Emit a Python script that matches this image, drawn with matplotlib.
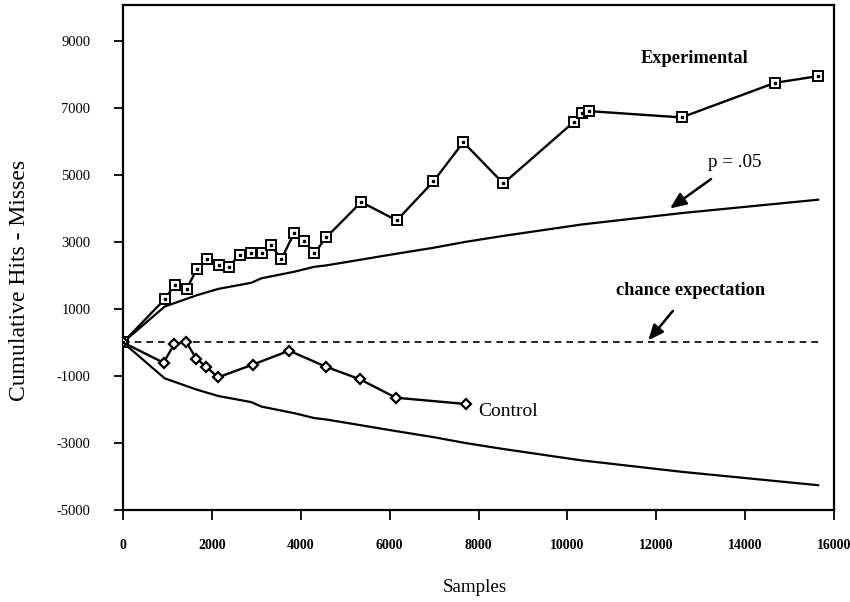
import matplotlib
matplotlib.use("Agg")
import matplotlib.pyplot as plt
import numpy as np

plt.rcParams['font.family'] = ['Liberation Serif', 'DejaVu Serif']

# Experimental series (squares)
exp_x = [0, 936, 1169, 1431, 1664, 1889, 2150, 2384, 2622, 2886, 3117, 3335, 3560,
         3852, 4077, 4309, 4579, 5359, 6162, 6986, 7658, 8560, 10157, 10323, 10480,
         12570, 14670, 15643]
exp_y = [0, 1286, 1721, 1593, 2199, 2479, 2309, 2258, 2616, 2667, 2667, 2915, 2479,
         3264, 3034, 2667, 3144, 4189, 3642, 4806, 5975, 4746, 6593, 6855, 6904,
         6715, 7748, 7948]

# Control series (diamonds)
ctl_x = [0, 913, 1154, 1424, 1649, 1874, 2137, 2915, 3740, 4565, 5337, 6140, 7721]
ctl_y = [0, -605, -48, 12, -485, -724, -1042, -664, -246, -724, -1102, -1649, -1838]

# p = .05 boundary (magnitude)
bound_x = [0, 936, 1664, 2150, 2886, 3117, 3852, 4309, 4579, 6162, 6986, 7700, 8560,
           10323, 12570, 15643]
bound_y = [0, 1070, 1410, 1600, 1780, 1915, 2110, 2258, 2300, 2650, 2825, 3000, 3180,
           3520, 3860, 4260]

chance_x = [0, 15643]
chance_y = [0, 0]

x_ticks = [0, 2000, 4000, 6000, 8000, 10000, 12000, 14000, 16000]
y_ticks = [-5000, -3000, -1000, 1000, 3000, 5000, 7000, 9000]

fig = plt.figure(figsize=(8.5, 6.02), dpi=100)
ax = fig.add_axes([123/850, 1 - 510/602, (834 - 123)/850, (510 - 5)/602])

bx = np.array(bound_x)
by = np.array(bound_y)
ax.plot(bx, by, color='black', lw=1.6, zorder=2)
ax.plot(bx, -by, color='black', lw=1.6, zorder=2)

ax.plot(chance_x, chance_y, color='black', lw=1.2, ls=(0, (4, 3)), zorder=2)

ax.plot(exp_x, exp_y, color='black', lw=1.7, marker='s', ms=6.5, mfc='white',
        mec='black', mew=1.4, zorder=4)
ax.plot(exp_x, exp_y, ls='none', marker='s', ms=1.6, mfc='black', mec='black', zorder=5)

ax.plot(ctl_x, ctl_y, color='black', lw=1.7, marker='D', ms=5, mfc='white',
        mec='black', mew=1.6, zorder=4)

ax.set_xlim(0, 16000)
ax.set_ylim(-5000, 10070)
ax.set_xticks(x_ticks)
ax.set_yticks(y_ticks)
ax.set_xticklabels([str(t) for t in x_ticks], fontsize=10, fontweight='bold')
ax.set_yticklabels([str(t) for t in y_ticks], fontsize=10.5)
ax.tick_params(axis='x', direction='out', length=7, width=1.3, pad=14)
ax.tick_params(axis='y', direction='out', length=6.5, width=1.3, pad=17)
for s in ax.spines.values():
    s.set_linewidth(1.6)

fig.text(475/850, 1 - 588/602, 'Samples', ha='center', va='center', fontsize=13.7)
fig.text(20/850, 1 - 280/602, 'Cumulative Hits - Misses', ha='center', va='center',
         rotation=90, fontsize=17)

ax.text(12870, 8484, 'Experimental', ha='center', va='center', fontsize=13.2,
        fontweight='bold')
ax.text(7993, -2047, 'Control', ha='left', va='center', fontsize=14)

ax.annotate('p = .05', xy=(12310, 4000), xytext=(13165, 5382), ha='left', va='center',
            fontsize=13.8,
            arrowprops=dict(arrowstyle='-|>,head_length=0.7,head_width=0.3', lw=1.8,
                            color='black', shrinkA=7, shrinkB=0))
ax.annotate('chance expectation', xy=(11821, 60), xytext=(12766, 1563), ha='center',
            va='center', fontsize=13.2, fontweight='bold',
            arrowprops=dict(arrowstyle='-|>,head_length=0.7,head_width=0.3', lw=1.8,
                            color='black', shrinkA=9, shrinkB=0))

fig.savefig('out.png', dpi=100)
